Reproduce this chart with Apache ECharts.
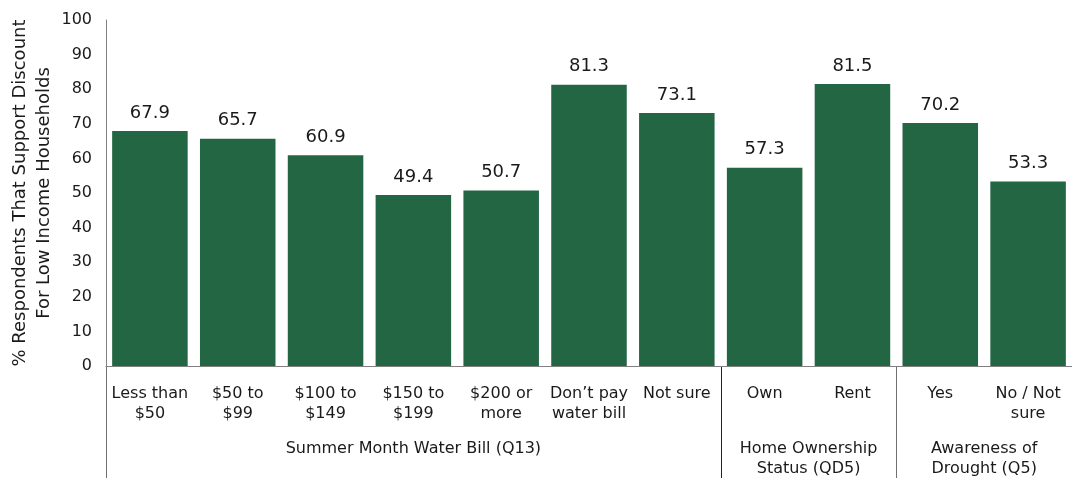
<!DOCTYPE html>
<html>
<head>
<meta charset="utf-8">
<script src="https://cdn.jsdelivr.net/npm/echarts@6/dist/echarts.min.js"></script>
<style>
  html, body { margin: 0; padding: 0; background: #fff; }
  #chart { width: 1072px; height: 478px; }
</style>
</head>
<body>
<div id="chart"></div>
<script>
// Share of respondents supporting a discount for low income households
const categories = [
  'Less than\n$50', '$50 to\n$99', '$100 to\n$149', '$150 to\n$199', '$200 or\nmore',
  'Don\u2019t pay\nwater bill', 'Not sure', 'Own', 'Rent', 'Yes', 'No / Not\nsure'
];
const values = [67.9, 65.7, 60.9, 49.4, 50.7, 81.3, 73.1, 57.3, 81.5, 70.2, 53.3];

// Category groups: label, first index, last index
const groupNames = ['Summer Month Water Bill (Q13)', 'Home Ownership\nStatus (QD5)', 'Awareness of\nDrought (Q5)'];
const groupStarts = [0, 7, 9];
const groupEnds = [6, 8, 10];

const yTicks = { min: 0, max: 100, interval: 10 };
const yTitle = '% Respondents That Support Discount\nFor Low Income Households';

const FONT = 'DejaVu Sans';
const TEXT = '#1a1a1a';
const GREEN = '#236644';

const chart = echarts.init(document.getElementById('chart'), null, { renderer: 'canvas' });

const option = {
  animation: false,
  textStyle: { fontFamily: FONT, color: TEXT },
  grid: { left: 106, right: 0, top: 20, bottom: 112, containLabel: false, outerBoundsMode: 'none' },
  xAxis: {
    type: 'category',
    data: categories,
    axisLine: { show: true, lineStyle: { color: '#808080', width: 1 } },
    axisTick: { show: false },
    axisLabel: {
      interval: 0,
      margin: 18,
      fontFamily: FONT,
      fontSize: 16,
      lineHeight: 20,
      color: TEXT,
      verticalAlign: 'top'
    }
  },
  yAxis: {
    type: 'value',
    min: yTicks.min,
    max: yTicks.max,
    interval: yTicks.interval,
    splitLine: { show: false },
    axisTick: { show: false },
    axisLine: { show: true, lineStyle: { color: '#808080', width: 1 } },
    axisLabel: { fontFamily: FONT, fontSize: 16, color: TEXT, margin: 14 },
    name: yTitle,
    nameLocation: 'middle',
    nameGap: 50,
    nameMoveOverlap: false,
    nameTextStyle: { fontFamily: FONT, fontSize: 18, color: TEXT, lineHeight: 24 }
  },
  series: [{
    type: 'bar',
    data: values,
    barCategoryGap: '14%',
    itemStyle: { color: GREEN },
    label: {
      show: true,
      position: 'top',
      distance: 9,
      fontFamily: FONT,
      fontSize: 18,
      color: TEXT,
      formatter: (p) => p.value.toFixed(1)
    }
  }]
};

chart.setOption(option);

// Group captions, group separators and the left axis extension below the labels
function drawGroups() {
  const base = chart.convertToPixel({ yAxisIndex: 0 }, 0);
  const step = chart.convertToPixel({ xAxisIndex: 0 }, 1) - chart.convertToPixel({ xAxisIndex: 0 }, 0);
  const elements = [];
  groupNames.forEach((name, g) => {
    const x0 = chart.convertToPixel({ xAxisIndex: 0 }, groupStarts[g]) - step / 2;
    const x1 = chart.convertToPixel({ xAxisIndex: 0 }, groupEnds[g]) + step / 2;
    elements.push({
      type: 'text',
      x: (x0 + x1) / 2,
      y: base + 73,
      style: {
        text: name,
        fontFamily: FONT,
        fontSize: 16,
        lineHeight: 20,
        fill: TEXT,
        align: 'center',
        verticalAlign: 'top'
      }
    });
    const sx = Math.round(x0) + 0.5;
    elements.push({
      type: 'line',
      shape: { x1: sx, y1: base, x2: sx, y2: 478 },
      style: { stroke: g === 1 ? '#222' : '#707070', lineWidth: 1 }
    });
  });
  chart.setOption({ graphic: { elements } });
}
drawGroups();
</script>
</body>
</html>
